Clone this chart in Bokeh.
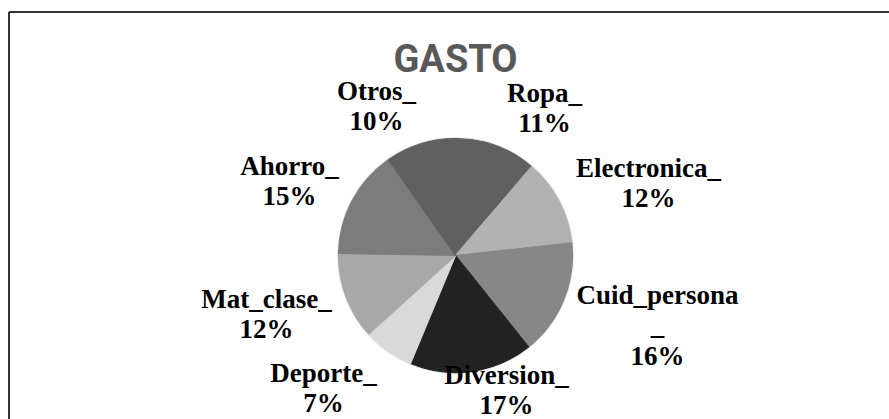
import numpy as np
from bokeh.plotting import figure
from bokeh.models import ColumnDataSource, Range1d
from bokeh.core.properties import value
from bokeh.embed import file_html
from bokeh.resources import INLINE

# ---- data ----
categories = ["Ropa_", "Electronica_", "Cuid_persona_", "Diversion_",
              "Deporte_", "Mat_clase_", "Ahorro_", "Otros_"]
values = [11, 12, 16, 17, 7, 12, 15, 10]
title_text = "GASTO"

# ---- styles / layout ----
slice_colors = ["#606060", "#b2b2b2", "#878787", "#222222",
                "#d9d9d9", "#a8a8a8", "#7c7c7c", "#606060"]
W, H = 889, 419
pie_cx, pie_cy, R = 455, 255, 117     # pie centre / radius (screen px)
start_offset_deg = 1.0
# label anchors: (centre x, first baseline y) in screen px
label_anchor = [(544, 101), (648, 176), (657, 303), (506, 383),
                (323, 381), (266, 307), (289, 174), (376, 99)]
line_step = 30.5
label_fix = 9     # baseline correction of the renderer (px)
title_fix = 14

def sx(x):
    return x

def sy(y):
    return H - y

vals = np.array(values, dtype=float)
frac = vals / vals.sum()
th_end = start_offset_deg + np.cumsum(frac) * 360.0
th_start = th_end - frac * 360.0
src = ColumnDataSource(dict(
    cat=categories,
    val=values,
    start=np.radians(90 - th_start),
    end=np.radians(90 - th_end),
    color=slice_colors,
))

p = figure(width=W, height=H, output_backend="svg", toolbar_location=None,
           x_range=Range1d(0, W), y_range=Range1d(0, H),
           x_axis_type=None, y_axis_type=None, min_border=0)
p.grid.visible = False
p.outline_line_color = None
p.background_fill_color = "white"
p.border_fill_color = "white"

# soft edge of the pie
p.circle(x=[sx(pie_cx)], y=[sy(pie_cy)], radius=R + 1.5, fill_color="#d8d8d8",
         line_color=None, fill_alpha=0.6)
p.wedge(x=sx(pie_cx), y=sy(pie_cy), radius=R, start_angle="start", end_angle="end",
        direction="clock", fill_color="color", line_color="color",
        line_width=1.2, source=src)

# labels
lx, ly, lt = [], [], []
for cat, v, (ax, ay) in zip(categories, values, label_anchor):
    name_lines = [cat] if len(cat) <= 12 else [cat[:-1], cat[-1]]
    lines = name_lines + [f"{v}%"]
    for i, t in enumerate(lines):
        lx.append(sx(ax))
        ly.append(sy(ay + i * line_step - label_fix))
        lt.append(t)
p.text(x=lx, y=ly, text=lt, text_align="center", text_baseline="alphabetic",
       text_font=value("Liberation Serif"), text_font_style="bold",
       text_font_size="27px", text_color="black")

# title
p.text(x=[sx(455)], y=[sy(72 - title_fix)], text=[title_text], text_align="center",
       text_baseline="alphabetic", text_font=value("Roboto"),
       text_font_style="bold", text_font_size="38px", text_color="#595959")

# chart-area border (top and left edges visible)
p.line(x=[sx(8.5), sx(W + 10)], y=[sy(11.5), sy(11.5)], line_color="#333333", line_width=2)
p.line(x=[sx(8.5), sx(8.5)], y=[sy(11.5), sy(H + 10)], line_color="#333333", line_width=2)

open("out.html", "w").write(file_html(p, INLINE))
